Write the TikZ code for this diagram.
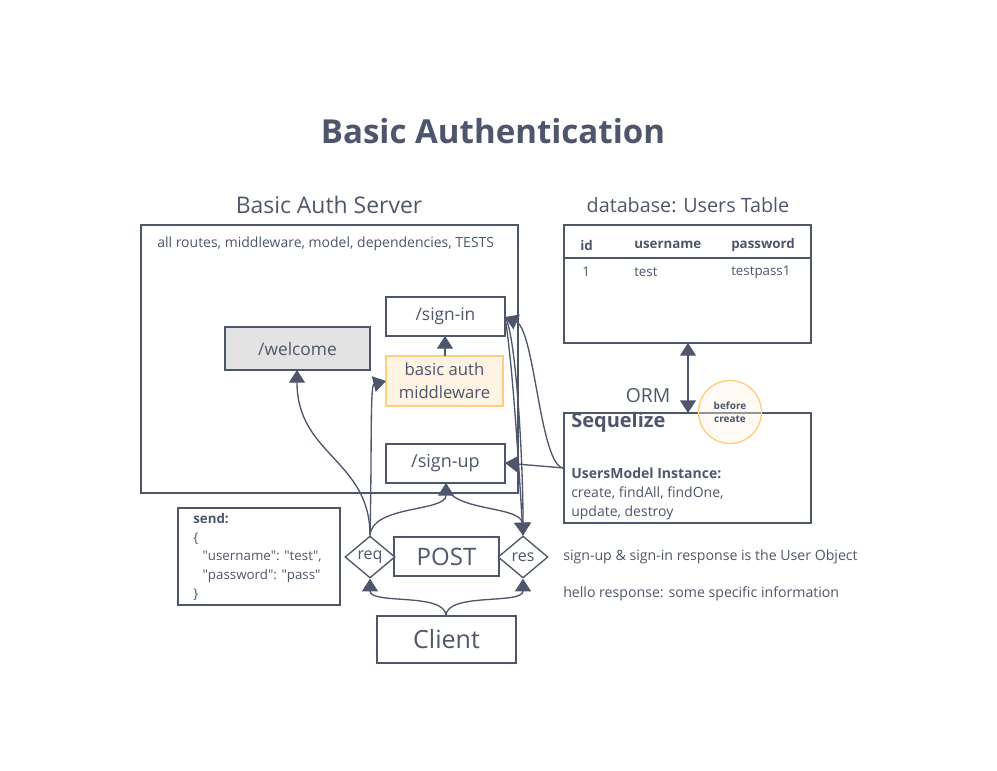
\documentclass[tikz,border=0pt]{standalone}
\usepackage{fontspec}
\setmainfont{Open Sans}
\newfontfamily\qfont{Open Sans}[Ligatures=ResetAll]
\usetikzlibrary{arrows.meta,shapes.geometric}
\definecolor{ink}{HTML}{4E566B}
\definecolor{gfill}{HTML}{E3E3E3}
\definecolor{ofill}{HTML}{FFF3E3}
\definecolor{ostroke}{HTML}{FFCC80}
\newlength{\pxu}\setlength{\pxu}{0.75pt}
\newcommand{\dq}{{\qfont\symbol{34}}}
\tikzset{
  box/.style={draw=ink,line width=1pt,inner sep=0pt},
  lbl/.style={text=ink,inner sep=0pt},
  tip/.tip={Triangle[width=12pt,length=9.5pt]},
  conn/.style={draw=ink,line width=1pt,-tip},
  dia/.style={diamond,draw=ink,line width=1pt,fill=white,minimum width=50\pxu,minimum height=42\pxu,inner sep=0pt,aspect=1.2,text=ink,font=\fontsize{12}{14}\selectfont}
}
\begin{document}
\begin{tikzpicture}[x=0.75pt,y=-0.75pt]
\useasboundingbox (0,0) rectangle (997,771);
% title
\node[lbl,font=\fontsize{24.8}{28}\bfseries\selectfont] (title) at (493,131) {Basic Authentication};
\node[lbl,font=\fontsize{17.2}{19}\selectfont] (srvlbl) at (329,205) {Basic Auth Server};
\node[lbl,font=\fontsize{14.8}{17}\selectfont] (dblbl) at (688,205) {database: Users Table};
% server box
\draw[box] (141,225) rectangle (518,493);
\node[lbl,anchor=west,font=\fontsize{10.5}{12}\selectfont] (srvtxt) at (157,244) {all routes, middleware, model, dependencies, TESTS};
% routes
\draw[box,fill=white] (386,297) rectangle (505,336);
\node[lbl,font=\fontsize{13}{15}\selectfont] (signin) at (445.5,316.5) {/sign-in};
\coordinate (signinR) at (505,317);
\coordinate (signinB) at (445,336);
\draw[box,fill=gfill] (225,327) rectangle (370,370);
\node[lbl,font=\fontsize{13}{15}\selectfont] (welcome) at (297.5,348.5) {/welcome};
\coordinate (welcomeB) at (297,370);
\draw[draw=ostroke,line width=1pt,fill=ofill] (386,356) rectangle (503,406);
\node[lbl,align=center,font=\fontsize{12.5}{17}\selectfont] (mw) at (444.5,381) {basic auth\\middleware};
\coordinate (mwT) at (445,356);
\coordinate (mwL) at (386,381);
\draw[box,fill=white] (386,444) rectangle (505,483);
\node[lbl,font=\fontsize{13.5}{15}\selectfont] (signup) at (445.5,463.5) {/sign-up};
\coordinate (signupB) at (446,483);
\coordinate (signupR) at (505,463);
% db table
\draw[box] (564,225) rectangle (811,343);
\draw[draw=ink,line width=1pt] (564,258) -- (811,258);
\begin{scope}[every node/.style={lbl,anchor=west,font=\fontsize{10}{12}\selectfont}]
\node[font=\fontsize{10}{12}\bfseries\selectfont] (hid) at (580,245) {id};
\node[font=\fontsize{10}{12}\bfseries\selectfont] (hun) at (634,245) {username};
\node[font=\fontsize{10}{12}\bfseries\selectfont] (hpw) at (731,245) {password};
\node (rid) at (582,272) {1};
\node (run) at (634,272) {test};
\node (rpw) at (731,272) {testpass1};
\end{scope}
\coordinate (dbB) at (688,343);
% sequelize
\draw[box] (564,413) rectangle (811,523);
\coordinate (seqT) at (688,413);
\coordinate (seqL) at (564,468);
\node[lbl,anchor=west,font=\fontsize{15}{17}\bfseries\selectfont] (seq) at (571,422) {Sequelize};
\node[lbl,anchor=north west,align=left,font=\fontsize{10.5}{14}\selectfont] (umi) at (571,468) {\textbf{UsersModel Instance:}\\create, findAll, findOne,\\update, destroy};
\draw[draw=ink,line width=1pt,tip-tip] (dbB) -- (seqT);
\node[lbl,font=\fontsize{14.5}{17}\selectfont] (orm) at (648,396) {ORM};
\draw[draw=ostroke,line width=1pt,fill=ofill,fill opacity=0.4] (730,412) circle (31.5);
\node[lbl,align=center,font=\fontsize{7.5}{10}\bfseries\selectfont] (bc) at (730,412) {before\\create};
% send box
\draw[box] (178,508) rectangle (340,605);
\node[lbl,anchor=north west,align=left,font=\fontsize{10}{14}\selectfont] (send) at (193,513) {\textbf{send:}\\\{\\\hspace*{7pt}\dq username\dq: \dq test\dq,\\\hspace*{7pt}\dq password\dq: \dq pass\dq\\\}};
% request/response row
\draw[box] (394,537) rectangle (499,576);
\node[lbl,font=\fontsize{18}{20}\selectfont] (post) at (446.5,556.5) {POST};
\node[dia] (req) at (370,557) {req};
\node[dia] (res) at (523,557) {res};
\draw[box] (377,616) rectangle (516,663);
\node[lbl,font=\fontsize{18.8}{21}\selectfont] (client) at (446.5,639.5) {Client};
\coordinate (clientT) at (446,616);
% side notes
\node[lbl,anchor=west,font=\fontsize{10.6}{12}\selectfont] (n1) at (563,557) {sign-up \& sign-in response is the User Object};
\node[lbl,anchor=west,font=\fontsize{10.6}{12}\selectfont] (n2) at (563,594) {hello response: some specific information};
% connectors
\draw[conn] (mwT) -- (signinB);
\draw[conn] (clientT) .. controls (446,592) and (370,605) .. (req.south);
\draw[conn] (clientT) .. controls (446,592) and (523,605) .. (res.south);
\draw[conn] (req.north) .. controls (370,460) and (297,455) .. (welcomeB);
\draw[conn] (req.north) .. controls (372,450) and (370,385) .. (mwL);
\draw[conn] (req.north) .. controls (372,505) and (446,512) .. (signupB);
\draw[conn] (signupB) .. controls (446,512) and (521,505) .. (res.north);
\draw[conn] (seqL) -- (signupR);
\draw[conn] (seqL) .. controls (540,468) and (535,330) .. (signinR);
\draw[conn] (signinR) .. controls (515,330) and (523,450) .. (res.north);
\draw[draw=ink,line width=1pt] (signinR) .. controls (512,360) and (518,450) .. (res.north);
\end{tikzpicture}
\end{document}
